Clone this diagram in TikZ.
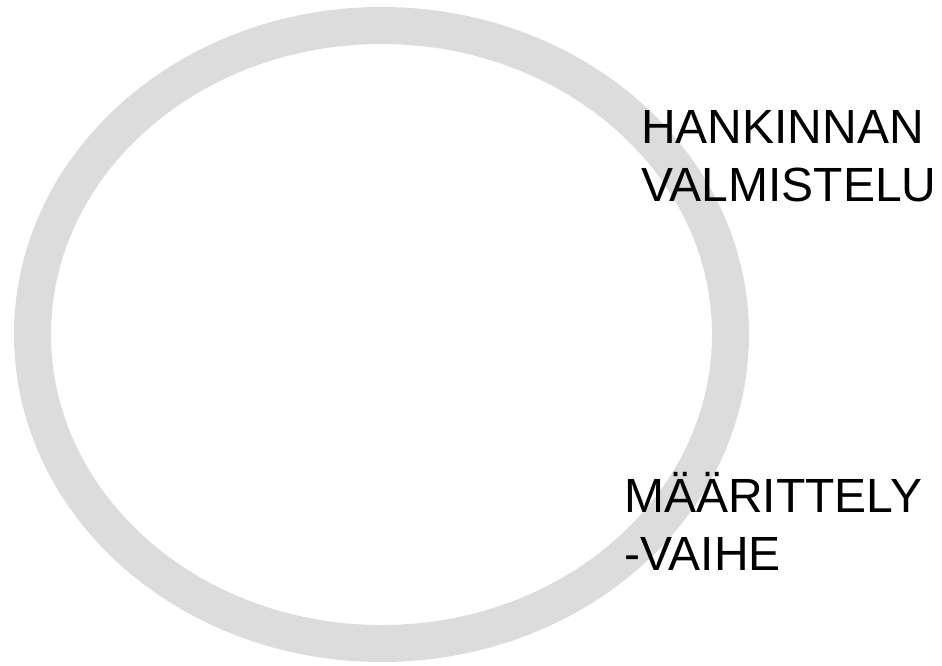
\documentclass[tikz,border=0pt]{standalone}
\usepackage{fontspec}
\setmainfont{Liberation Sans}
\usepackage{xcolor}
\usepackage{tikz}
\usetikzlibrary{positioning}

\definecolor{ringgray}{HTML}{DCDCDC}

\begin{document}
\begin{tikzpicture}[x=0.75pt, y=-0.75pt,
    ring/.style={draw=ringgray, line width=27.75pt},
    phase/.style={anchor=base west, inner sep=0pt, align=left,
        font=\fontsize{36pt}{43.5pt}\selectfont}]
    \useasboundingbox (0,0) rectangle (942,665);

    \draw[ring] (381.5,334.5) ellipse [x radius=349, y radius=309];

    \node[phase] (valmistelu) at (641,201) {HANKINNAN\\VALMISTELU};
    \node[phase] (maarittely) at (624,570) {MÄÄRITTELY\\-VAIHE};
\end{tikzpicture}
\end{document}
